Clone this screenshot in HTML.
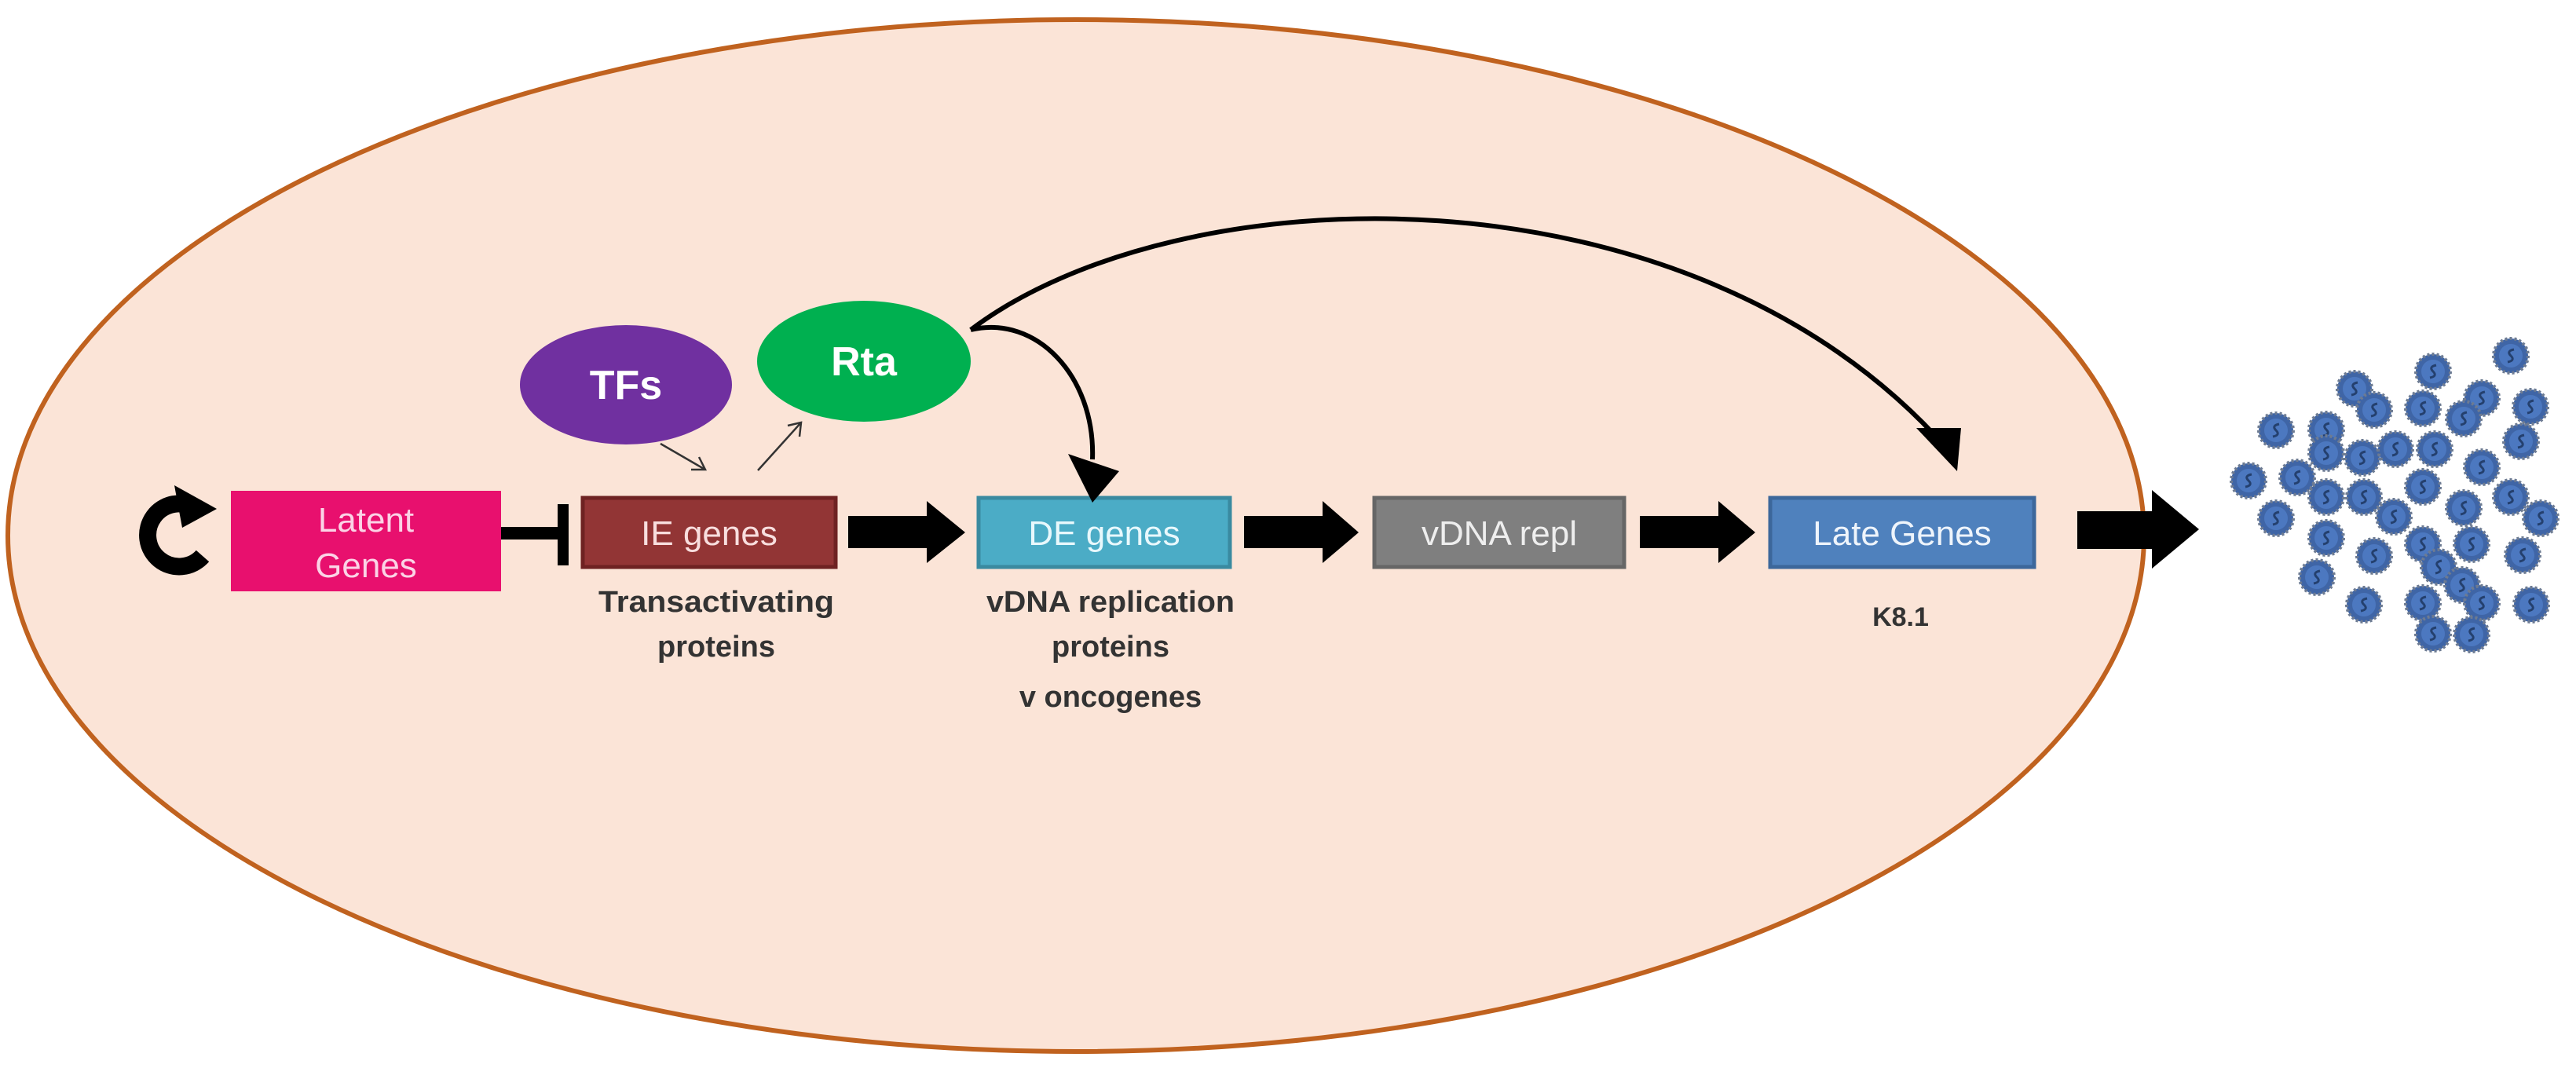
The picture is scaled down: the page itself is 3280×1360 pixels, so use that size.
<!DOCTYPE html>
<html><head><meta charset="utf-8"><style>
html,body{margin:0;padding:0;background:#fff;}
svg{display:block;}
text{font-family:"Liberation Sans",sans-serif;}
</style></head><body>
<svg width="3280" height="1360" viewBox="0 0 3280 1360" xmlns="http://www.w3.org/2000/svg">
<defs>
<g id="v"><circle r="22" fill="#3f65a6" stroke="#6d7b92" stroke-width="4" stroke-dasharray="3 3"/><circle r="15" fill="#4c78c0"/><path d="M4,-8 Q-6,-6 0,0 Q6,6 -4,8" stroke="#24406e" stroke-width="3" fill="none"/></g>
</defs>
<ellipse cx="1370" cy="682" rx="1360" ry="657" fill="#fbe4d7" stroke="#c0621f" stroke-width="6"/>

<path d="M250,648 A40,40 0 1 0 258,708" fill="none" stroke="#000" stroke-width="22"/>
<polygon points="222,618 276,648 232,672" fill="#000"/>

<rect x="294" y="625" width="344" height="128" fill="#e8106e"/>
<text x="466" y="677" font-size="44" fill="#fbd3e6" text-anchor="middle">Latent</text>
<text x="466" y="735" font-size="44" fill="#fbd3e6" text-anchor="middle">Genes</text>
<rect x="638" y="671" width="80" height="16" fill="#000"/>
<rect x="710" y="642" width="14" height="78" fill="#000"/>

<rect x="742" y="634" width="322" height="88" fill="#923535" stroke="#6e2222" stroke-width="5"/>
<text x="903" y="694" font-size="44" fill="#f8dede" text-anchor="middle">IE genes</text>
<text x="912" y="779" font-size="38" font-weight="bold" fill="#333" text-anchor="middle" textLength="300" lengthAdjust="spacingAndGlyphs">Transactivating</text>
<text x="912" y="836" font-size="38" font-weight="bold" fill="#333" text-anchor="middle">proteins</text>

<polygon points="1080,657 1180,657 1180,638 1229,678 1180,717 1180,698 1080,698" fill="#000"/>

<rect x="1246" y="634" width="320" height="88" fill="#4bacc6" stroke="#3a8aa0" stroke-width="5"/>
<text x="1406" y="694" font-size="44" fill="#e8f8fc" text-anchor="middle">DE genes</text>
<text x="1414" y="779" font-size="38" font-weight="bold" fill="#333" text-anchor="middle" textLength="316" lengthAdjust="spacingAndGlyphs">vDNA replication</text>
<text x="1414" y="836" font-size="38" font-weight="bold" fill="#333" text-anchor="middle">proteins</text>
<text x="1414" y="900" font-size="38" font-weight="bold" fill="#333" text-anchor="middle">v oncogenes</text>

<polygon points="1584,657 1684,657 1684,638 1730,678 1684,717 1684,698 1584,698" fill="#000"/>

<rect x="1750" y="634" width="318" height="88" fill="#7f7f7f" stroke="#666" stroke-width="5"/>
<text x="1909" y="694" font-size="44" fill="#eee" text-anchor="middle">vDNA repl</text>

<polygon points="2088,657 2188,657 2188,638 2235,678 2188,717 2188,698 2088,698" fill="#000"/>

<rect x="2254" y="634" width="336" height="88" fill="#4f81bd" stroke="#3c679b" stroke-width="5"/>
<text x="2422" y="694" font-size="44" fill="#eef4fb" text-anchor="middle">Late Genes</text>
<text x="2420" y="797" font-size="34" font-weight="bold" fill="#333" text-anchor="middle">K8.1</text>

<polygon points="2645,651 2740,651 2740,624 2800,674 2740,724 2740,699 2645,699" fill="#000"/>

<ellipse cx="797" cy="490" rx="135" ry="76" fill="#7030a0"/>
<text x="797" y="508" font-size="52" font-weight="bold" fill="#fff" text-anchor="middle">TFs</text>
<ellipse cx="1100" cy="460" rx="136" ry="77" fill="#00b050"/>
<text x="1100" y="478" font-size="52" font-weight="bold" fill="#fff" text-anchor="middle">Rta</text>

<path d="M841,565 L898,598 M880,598 L898,598 L890,582" stroke="#333" stroke-width="2.5" fill="none"/>
<path d="M965,599 L1020,538 M1003,542 L1020,538 L1018,556" stroke="#333" stroke-width="2.5" fill="none"/>

<path d="M1236,420 C1320,400 1395,480 1391,585" stroke="#000" stroke-width="6" fill="none"/>
<polygon points="1360,578 1425,600 1391,640" fill="#000"/>
<path d="M1236,420 C1500,220 2150,200 2478,570" stroke="#000" stroke-width="6" fill="none"/>
<polygon points="2440,545 2497,545 2492,600" fill="#000"/>

<g>
<use href="#v" x="3098" y="473"/><use href="#v" x="3197" y="453"/><use href="#v" x="2998" y="495"/>
<use href="#v" x="3023" y="522"/><use href="#v" x="3085" y="520"/><use href="#v" x="3160" y="507"/>
<use href="#v" x="3137" y="533"/><use href="#v" x="3222" y="518"/><use href="#v" x="2898" y="548"/>
<use href="#v" x="2962" y="547"/><use href="#v" x="3210" y="562"/><use href="#v" x="2962" y="577"/>
<use href="#v" x="3008" y="583"/><use href="#v" x="3050" y="572"/><use href="#v" x="3100" y="572"/>
<use href="#v" x="3160" y="595"/><use href="#v" x="2863" y="612"/><use href="#v" x="2925" y="608"/>
<use href="#v" x="2962" y="633"/><use href="#v" x="3010" y="633"/><use href="#v" x="3085" y="620"/>
<use href="#v" x="3197" y="633"/><use href="#v" x="3137" y="647"/><use href="#v" x="2898" y="660"/>
<use href="#v" x="3048" y="658"/><use href="#v" x="3235" y="660"/><use href="#v" x="2962" y="685"/>
<use href="#v" x="3085" y="693"/><use href="#v" x="3147" y="693"/><use href="#v" x="3212" y="707"/>
<use href="#v" x="3023" y="708"/><use href="#v" x="3105" y="722"/><use href="#v" x="2950" y="735"/>
<use href="#v" x="3135" y="745"/><use href="#v" x="3010" y="770"/><use href="#v" x="3085" y="768"/>
<use href="#v" x="3160" y="768"/><use href="#v" x="3223" y="770"/><use href="#v" x="3098" y="807"/>
<use href="#v" x="3147" y="808"/>
</g>
</svg>
</body></html>
